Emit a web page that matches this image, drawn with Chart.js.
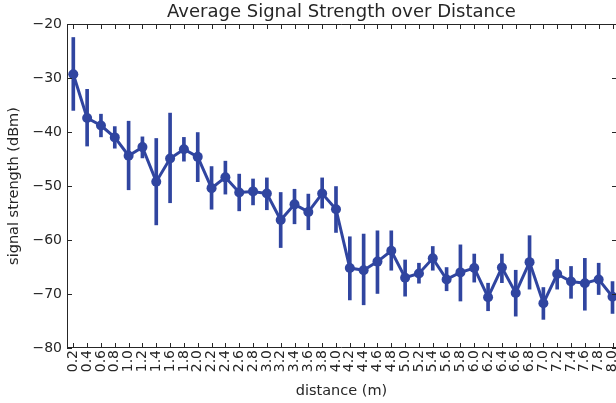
<!DOCTYPE html>
<html>
<head>
<meta charset="utf-8">
<script src="https://cdn.jsdelivr.net/npm/chart.js@4/dist/chart.umd.min.js"></script>
<style>
  html, body { margin: 0; padding: 0; background: #fff; }
  #grafico { display: block; }
</style>
</head>
<body>
<canvas id="grafico" width="616" height="403"></canvas>
<script>
// valores
const distances = ["0.2", "0.4", "0.6", "0.8", "1.0", "1.2", "1.4", "1.6", "1.8", "2.0",
  "2.2", "2.4", "2.6", "2.8", "3.0", "3.2", "3.4", "3.6", "3.8", "4.0",
  "4.2", "4.4", "4.6", "4.8", "5.0", "5.2", "5.4", "5.6", "5.8", "6.0",
  "6.2", "6.4", "6.6", "6.8", "7.0", "7.2", "7.4", "7.6", "7.8", "8.0"];

const signalMean = [-29.3, -37.4, -38.8, -41.0, -44.4, -42.8, -49.2, -44.9, -43.2, -44.6,
  -50.4, -48.4, -51.2, -51.0, -51.4, -56.3, -53.4, -54.8, -51.4, -54.3,
  -65.2, -65.6, -64.0, -62.0, -67.0, -66.2, -63.4, -67.3, -66.0, -65.2,
  -70.6, -65.1, -69.8, -64.1, -71.7, -66.3, -67.7, -68.0, -67.3, -70.5];

const ciHigh = [-22.5, -32.1, -36.7, -39.0, -38.0, -40.9, -41.2, -36.5, -41.0, -40.1,
  -46.4, -45.4, -47.8, -48.7, -48.5, -51.2, -50.6, -51.5, -48.5, -50.1,
  -59.4, -58.9, -58.3, -58.3, -63.7, -64.3, -61.2, -65.1, -60.9, -62.6,
  -68.0, -62.6, -65.6, -59.2, -68.8, -63.6, -64.9, -63.4, -64.3, -67.7];

const ciLow = [-36.0, -42.6, -40.9, -43.0, -50.7, -44.8, -57.2, -53.1, -45.4, -49.2,
  -54.3, -51.5, -54.6, -53.5, -54.4, -61.4, -57.0, -58.1, -54.1, -58.6,
  -71.1, -72.0, -69.9, -65.6, -70.4, -68.0, -65.6, -69.4, -71.3, -67.8,
  -73.1, -67.9, -74.1, -69.1, -74.7, -69.1, -70.8, -73.0, -70.1, -73.6];

const yTicks = [-80, -70, -60, -50, -40, -30, -20];

const COR = "#3045a0";
const TEXTO = "#262626";
const FONTE = "'DejaVu Sans', sans-serif";

// o eixo da referência vai até a borda direita da figura
const bordaPlugin = {
  id: "borda",
  afterLayout(chart) {
    const a = chart.chartArea;
    const x = chart.scales.x;
    a.right = chart.width;
    a.width = a.right - a.left;
    x.left = a.left;
    x.right = a.right;
    x.width = a.width;
    x.configure();
    const t = chart.titleBlock;
    if (t) { t.left = a.left; t.right = a.right; t.width = a.width; }
  }
};

// moldura + ticks para dentro, estilo matplotlib
const molduraPlugin = {
  id: "moldura",
  afterDatasetsDraw(chart) {
    const { ctx, chartArea: a, scales } = chart;
    const len = 5;
    ctx.save();
    ctx.strokeStyle = TEXTO;
    ctx.lineWidth = 1;
    ctx.beginPath();
    ctx.moveTo(a.left + 0.5, a.top + 0.5);
    ctx.lineTo(a.right, a.top + 0.5);
    ctx.moveTo(a.left + 0.5, a.top);
    ctx.lineTo(a.left + 0.5, a.bottom);
    ctx.moveTo(a.left, a.bottom - 0.5);
    ctx.lineTo(a.right, a.bottom - 0.5);
    distances.forEach((_, i) => {
      const x = Math.round(scales.x.getPixelForValue(i)) + 0.5;
      ctx.moveTo(x, a.bottom);
      ctx.lineTo(x, a.bottom - len);
      ctx.moveTo(x, a.top);
      ctx.lineTo(x, a.top + len);
    });
    yTicks.forEach(v => {
      const y = Math.round(scales.y.getPixelForValue(v)) + 0.5;
      ctx.moveTo(a.left, y);
      ctx.lineTo(a.left + len, y);
      ctx.moveTo(a.right, y);
      ctx.lineTo(a.right - len + 1, y);
    });
    ctx.stroke();
    ctx.restore();
  }
};

new Chart(document.getElementById("grafico").getContext("2d"), {
  data: {
    datasets: [
      {
        type: "line",
        data: signalMean.map((v, i) => ({ x: i, y: v })),
        borderColor: COR,
        backgroundColor: COR,
        borderWidth: 3,
        pointRadius: 5,
        pointBorderWidth: 0,
        pointBackgroundColor: COR,
        tension: 0,
        clip: false,
        order: 0
      },
      {
        type: "bar",
        data: ciLow.map((lo, i) => ({ x: i, y: [lo, ciHigh[i]] })),
        backgroundColor: COR,
        barThickness: 3,
        grouped: false,
        order: 1
      }
    ]
  },
  options: {
    responsive: false,
    animation: false,
    devicePixelRatio: 1,
    layout: { padding: 0 },
    plugins: {
      legend: { display: false },
      tooltip: { enabled: false },
      title: {
        display: true,
        text: "Average Signal Strength over Distance",
        color: TEXTO,
        font: { family: FONTE, size: 18, weight: "normal", lineHeight: 1.2 },
        padding: { top: 2, bottom: 0.4 }
      }
    },
    scales: {
      x: {
        type: "linear",
        offset: false,
        min: -0.456,
        max: 39.253,
        grid: { display: false, drawTicks: false, offset: false },
        border: { display: false },
        afterBuildTicks: s => { s.ticks = distances.map((_, i) => ({ value: i })); },
        afterFit: s => { s.height = 55; },
        ticks: {
          autoSkip: false,
          minRotation: 90,
          maxRotation: 90,
          padding: 2,
          color: TEXTO,
          font: { family: FONTE, size: 14 },
          callback: v => distances[v]
        },
        title: {
          display: true,
          text: "distance (m)",
          color: TEXTO,
          font: { family: FONTE, size: 14.5, lineHeight: 1 },
          padding: { top: 0, bottom: 5 }
        }
      },
      y: {
        min: -80,
        max: -20,
        grid: { display: false, drawTicks: false },
        border: { display: false },
        afterBuildTicks: s => { s.ticks = yTicks.map(v => ({ value: v })); },
        afterFit: s => { s.width = 67; },
        ticks: {
          padding: 5,
          color: TEXTO,
          font: { family: FONTE, size: 14 },
          callback: v => (v < 0 ? "\u2212" + Math.abs(v) : String(v))
        },
        title: {
          display: true,
          text: "signal strength (dBm)",
          color: TEXTO,
          font: { family: FONTE, size: 14.5, lineHeight: 1.2 },
          padding: { top: 6, bottom: 0 }
        }
      }
    }
  },
  plugins: [bordaPlugin, molduraPlugin]
});
</script>
</body>
</html>
